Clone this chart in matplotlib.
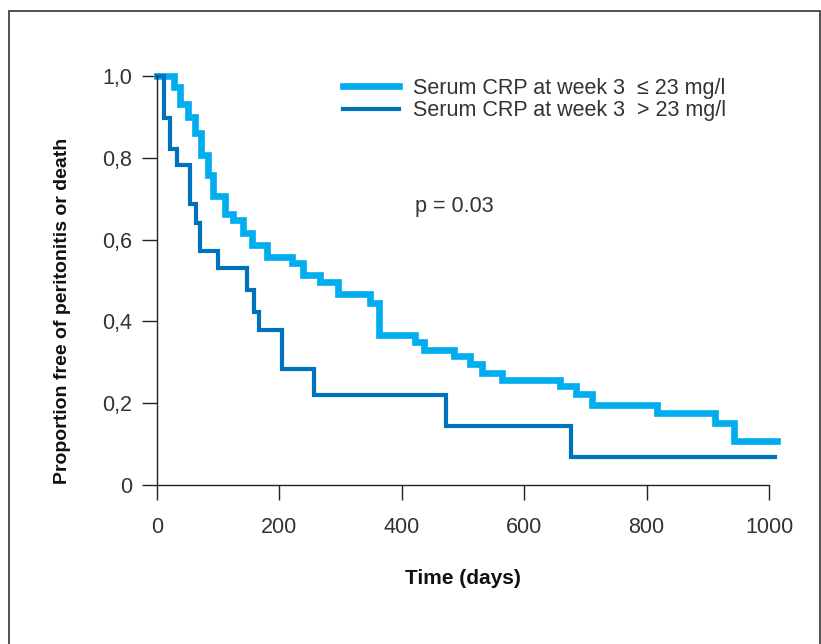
import matplotlib
matplotlib.use("Agg")
import matplotlib.pyplot as plt
from matplotlib.patches import Rectangle

plt.rcParams['font.family'] = ['Liberation Sans', 'DejaVu Sans']

# Kaplan-Meier steps (day of drop, proportion after the drop)
low_days = [0, 28, 38, 51, 62, 72, 83, 91, 111, 124, 141, 156, 179, 220, 239, 267,
            296, 348, 362, 422, 436, 485, 511, 531, 564, 659, 684, 711, 817, 912, 943, 1013]
low_surv = [1.0, 0.974, 0.931, 0.900, 0.860, 0.808, 0.758, 0.707, 0.663, 0.648, 0.615,
            0.588, 0.558, 0.542, 0.513, 0.497, 0.466, 0.444, 0.367, 0.350, 0.330, 0.316,
            0.295, 0.275, 0.257, 0.242, 0.222, 0.196, 0.175, 0.151, 0.108, 0.108]

high_days = [0, 11, 22, 33, 54, 64, 70, 100, 147, 158, 167, 204, 257, 473, 677, 1009]
high_surv = [1.0, 0.897, 0.821, 0.782, 0.686, 0.640, 0.572, 0.530, 0.477, 0.422, 0.379,
             0.283, 0.220, 0.145, 0.069, 0.069]

labels = ["Serum CRP at week 3  \u2264 23 mg/l", "Serum CRP at week 3  > 23 mg/l"]
yticks = [0, 0.2, 0.4, 0.6, 0.8, 1.0]
ytick_labels = ["0", "0,2", "0,4", "0,6", "0,8", "1,0"]
xticks = [0, 200, 400, 600, 800, 1000]

light = "#00aeef"
dark = "#0072bb"
txt = "#333333"

fig = plt.figure(figsize=(8.21, 6.44), dpi=100)
ax = fig.add_axes([157 / 821, 1 - 485 / 644, 612 / 821, 409 / 644])

ax.step(low_days, low_surv, where="post", color=light, lw=4.8, clip_on=False,
        solid_joinstyle="miter", label=labels[0])
ax.step(high_days, high_surv, where="post", color=dark, lw=3.0, clip_on=False,
        solid_joinstyle="miter", label=labels[1])

ax.set_xlim(0, 1000)
ax.set_ylim(0, 1)
for s in ["top", "right"]:
    ax.spines[s].set_visible(False)
for s in ["left", "bottom"]:
    ax.spines[s].set_color("#222222")
    ax.spines[s].set_linewidth(1.0)

ax.set_yticks(yticks)
ax.set_yticklabels(ytick_labels)
ax.set_xticks(xticks)
ax.tick_params(axis="both", direction="out", length=11, width=1.0, color="#222222",
               labelsize=15.5, labelcolor=txt)
ax.tick_params(axis="y", pad=7)
ax.tick_params(axis="x", pad=12)

ax.set_xlabel("Time (days)", fontsize=15, fontweight="bold", color="#111111", labelpad=22)
fig.text(63 / 821, 1 - 311 / 644, "Proportion free of peritonitis or death",
         rotation=90, ha="center", va="center", fontsize=14, fontweight="bold",
         color="#111111")

ax.text(421, 0.682, "p = 0.03", fontsize=15.5, color=txt, ha="left", va="center")

leg = ax.legend(loc="upper left", bbox_to_anchor=(343 / 821, 1 - 78 / 644),
                bbox_transform=fig.transFigure, frameon=False, fontsize=15.5,
                handlelength=2.6, handletextpad=0.65, labelspacing=0.05, borderpad=0,
                borderaxespad=0)
for t in leg.get_texts():
    t.set_color(txt)
leg.get_lines()[0].set_linewidth(4.8)
leg.get_lines()[1].set_linewidth(3.0)

fig.patches.append(Rectangle((9 / 821, -0.05), 811 / 821, 1.05 - 11 / 644,
                             transform=fig.transFigure, fill=False,
                             edgecolor="#333333", lw=1.2))

fig.savefig("out.png", dpi=100)
